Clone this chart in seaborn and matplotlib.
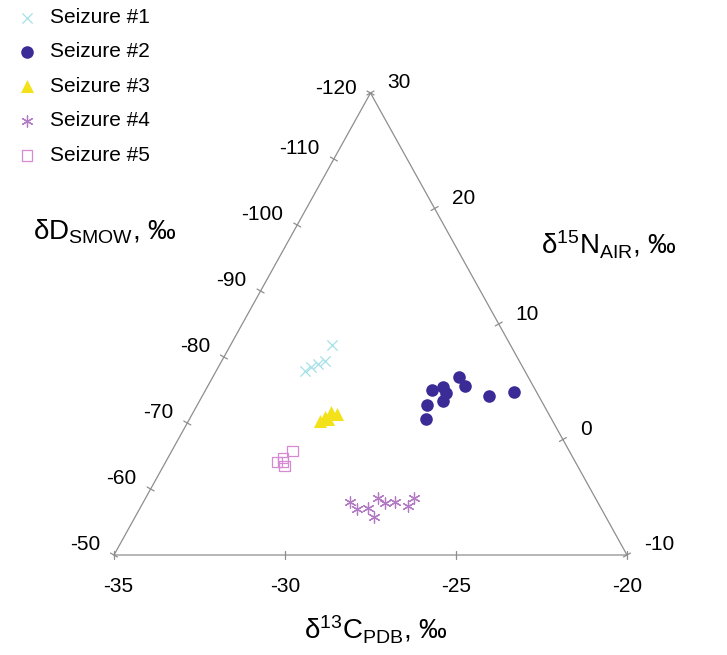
import numpy as np
import pandas as pd
import matplotlib
matplotlib.use("Agg")
import matplotlib.pyplot as plt
import seaborn as sns

# ---------------- data ----------------
series = ["Seizure #1", "Seizure #2", "Seizure #3", "Seizure #4", "Seizure #5"]

# delta13C (PDB) and delta15N (AIR), permil; deltaD is the ternary complement
s1_d13c = [-32.03, -31.98, -32.14, -32.29, -32.40]
s1_d15n = [8.18, 6.80, 6.54, 6.28, 5.93]
s2_d13c = [-28.39, -28.12, -27.93, -27.89, -28.27, -28.09, -27.80, -27.48, -26.61, -25.95]
s2_d15n = [4.29, 4.57, 4.05, 3.36, 2.99, 1.77, 5.38, 4.63, 3.79, 4.14]
s3_d13c = [-31.15, -31.07, -30.98, -30.77, -30.95]
s3_d15n = [1.60, 1.95, 2.38, 2.21, 1.77]
s4_d13c = [-28.97, -28.65, -28.32, -28.01, -28.20, -27.92, -27.65, -27.20, -27.14]
s4_d15n = [-5.38, -6.02, -5.96, -6.68, -5.04, -5.52, -5.38, -5.73, -5.09]
s5_d13c = [-31.74, -31.63, -31.46, -31.47, -31.57]
s5_d15n = [-1.95, -1.60, -1.00, -2.29, -1.95]

c_ticks = [-35, -30, -25, -20]
d_ticks = [-120, -110, -100, -90, -80, -70, -60, -50]
n_ticks = [30, 20, 10, 0, -10]
C_MIN, C_MAX = -35, -20
N_MIN, N_MAX = -10, 30
D_TOP, D_BL = -120, -50

# ---------------- style ----------------
sns.set_style("white")
plt.rcParams["font.family"] = ["Liberation Sans", "DejaVu Sans"]
plt.rcParams["text.color"] = "black"
plt.rcParams["mathtext.fontset"] = "custom"
plt.rcParams["mathtext.rm"] = "Liberation Sans"
plt.rcParams["mathtext.it"] = "Liberation Sans:italic"
plt.rcParams["mathtext.bf"] = "Liberation Sans:bold"

W, H = 727, 655
fig = plt.figure(figsize=(W / 100, H / 100), dpi=100)
# triangle: bottom-left (114,555), bottom-right (627,555), top (371,93) in pixels
L, R, B, T = 114, 627, 555, 93
ax = fig.add_axes([L / W, (H - B) / H, (R - L) / W, (B - T) / H])
ax.set_xlim(0, 1)
ax.set_ylim(0, 1)
ax.axis("off")
PX = R - L
PY = B - T


def to_xy(c, n):
    cf = (np.asarray(c, float) - C_MIN) / (C_MAX - C_MIN)
    nf = (np.asarray(n, float) - N_MIN) / (N_MAX - N_MIN)
    return cf + 0.5 * nf, nf


frames = []
for name, cc, nn in zip(series,
                        [s1_d13c, s2_d13c, s3_d13c, s4_d13c, s5_d13c],
                        [s1_d15n, s2_d15n, s3_d15n, s4_d15n, s5_d15n]):
    x, y = to_xy(cc, nn)
    frames.append(pd.DataFrame({"x": x, "y": y, "series": name}))
df = pd.concat(frames, ignore_index=True)

edge_col = "#8e8e8e"
ax.plot([0, 1, 0.5, 0], [0, 0, 1, 0], color=edge_col, lw=0.9, clip_on=False, zorder=1)

# ticks
tl = 4.0
for v in c_ticks:
    cf = (v - C_MIN) / (C_MAX - C_MIN)
    ax.plot([cf, cf], [-tl / PY, tl / PY], color=edge_col, lw=0.9, clip_on=False)
    ax.annotate(str(v), xy=(cf, 0), xytext=(4 if v == C_MIN else 0, -31),
                textcoords="offset pixels", ha="center", va="center", fontsize=15)

ln = np.hypot(257, 462)
nxl, nyl = 462 / ln, -257 / ln
for v in d_ticks:
    df_ = (v - D_TOP) / (D_BL - D_TOP)  # 0 at top, 1 at bottom-left
    nf = 1 - df_
    x, y = 0.5 * nf, nf
    ax.plot([x - tl * nxl / PX, x + tl * nxl / PX], [y - tl * nyl / PY, y + tl * nyl / PY],
            color=edge_col, lw=0.9, clip_on=False)
    ax.annotate(str(v), xy=(x, y), xytext=(-14, 4 if v == D_TOP else 10), textcoords="offset pixels",
                ha="right", va="center", fontsize=15)

nxr, nyr = 462 / ln, 257 / ln
for v in n_ticks:
    nf = (v - N_MIN) / (N_MAX - N_MIN)
    x, y = 1 - 0.5 * nf, nf
    ax.plot([x - tl * nxr / PX, x + tl * nxr / PX], [y - tl * nyr / PY, y + tl * nyr / PY],
            color=edge_col, lw=0.9, clip_on=False)
    ax.annotate(str(v), xy=(x, y), xytext=(17, 10), textcoords="offset pixels",
                ha="left", va="center", fontsize=15)

# points
styles = {
    "Seizure #1": dict(marker="x", color="#a4e1e8", s=55, linewidth=0.9),
    "Seizure #2": dict(marker="o", color="#3a2b97", s=82, linewidth=0, edgecolor="#3a2b97"),
    "Seizure #3": dict(marker="^", color="#f3e21a", s=88, linewidth=0, edgecolor="#f3e21a"),
    "Seizure #4": dict(marker=(6, 2, 0), color="#b27ac2", s=66, linewidth=0.9),
    "Seizure #5": dict(marker="s", color="#d68ad2", s=60, linewidth=0.9,
                       facecolor="none", edgecolor="#d68ad2"),
}
for name in series:
    sub = df[df["series"] == name]
    sns.scatterplot(data=sub, x="x", y="y", label=name, ax=ax, clip_on=False,
                    zorder=3, **styles[name])
ax.set_xlim(0, 1)
ax.set_ylim(0, 1)

leg = ax.legend(loc="upper left", bbox_to_anchor=(16.6 / W, 1 - 8 / H),
                bbox_transform=fig.transFigure, frameon=False, fontsize=15,
                handlelength=1.0, handletextpad=0.6, borderpad=0, borderaxespad=0,
                labelspacing=0.74, scatterpoints=1)

# axis titles
fig.text(376 / W, 1 - 630 / H, r"$\mathregular{δ^{13}C_{PDB}}$, ‰", ha="center", va="center", fontsize=20)
fig.text(105 / W, 1 - 232 / H, r"$\mathregular{δD_{SMOW}}$, ‰", ha="center", va="center", fontsize=20)
fig.text(609 / W, 1 - 245 / H, r"$\mathregular{δ^{15}N_{AIR}}$, ‰", ha="center", va="center", fontsize=20)

fig.savefig("out.png", dpi=100)
